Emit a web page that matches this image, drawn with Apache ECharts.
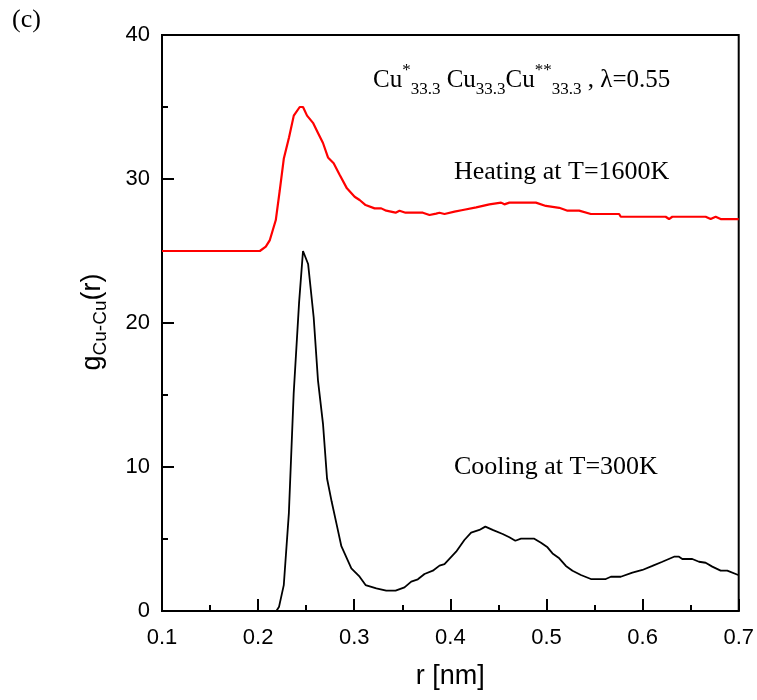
<!DOCTYPE html>
<html>
<head>
<meta charset="utf-8">
<script src="https://cdn.jsdelivr.net/npm/echarts@6/dist/echarts.min.js"></script>
<style>html,body{margin:0;padding:0;background:#fff}#c{width:757px;height:700px}</style>
</head>
<body>
<div id="c"></div>
<script>
// r [nm] values and g(r) values
var coolR = [0.1, 0.15, 0.2, 0.219, 0.2218, 0.2267, 0.232, 0.237, 0.2426, 0.2467, 0.252, 0.2578, 0.2623, 0.2675, 0.2717, 0.2765, 0.2814, 0.2866, 0.297, 0.3056, 0.3118, 0.323, 0.3333, 0.343, 0.3523, 0.3593, 0.3662, 0.3731, 0.3818, 0.3887, 0.3939, 0.406, 0.4146, 0.4216, 0.4302, 0.4364, 0.444, 0.4544, 0.4614, 0.4676, 0.4735, 0.4873, 0.4943, 0.5011, 0.5063, 0.5133, 0.5202, 0.5271, 0.5358, 0.5462, 0.5617, 0.567, 0.5773, 0.5894, 0.5998, 0.6102, 0.6206, 0.6327, 0.6379, 0.6413, 0.6517, 0.6587, 0.6656, 0.6725, 0.6812, 0.6881, 0.6995];
var coolG = [0, 0, 0, 0, 0.3, 1.8, 6.8, 15.1, 21.4, 25.0, 24.1, 20.4, 16.0, 13.0, 9.2, 7.6, 6.1, 4.5, 2.96, 2.38, 1.8, 1.57, 1.41, 1.41, 1.64, 2.04, 2.2, 2.57, 2.8, 3.15, 3.26, 4.12, 4.93, 5.44, 5.63, 5.86, 5.63, 5.35, 5.12, 4.88, 5.02, 5.02, 4.74, 4.42, 4.0, 3.66, 3.13, 2.8, 2.5, 2.22, 2.22, 2.38, 2.38, 2.66, 2.85, 3.13, 3.42, 3.77, 3.77, 3.61, 3.61, 3.42, 3.35, 3.08, 2.8, 2.8, 2.5];
var heatR = [0.1, 0.15, 0.2018, 0.208, 0.2122, 0.2184, 0.2225, 0.2267, 0.2322, 0.2371, 0.2433, 0.2467, 0.2509, 0.2571, 0.2623, 0.2675, 0.2727, 0.2786, 0.2848, 0.2924, 0.3004, 0.3056, 0.3118, 0.3212, 0.3281, 0.3333, 0.343, 0.3471, 0.3534, 0.3714, 0.3783, 0.3852, 0.3887, 0.3939, 0.4043, 0.413, 0.4269, 0.4406, 0.4528, 0.4562, 0.4614, 0.489, 0.4994, 0.5133, 0.5219, 0.534, 0.5462, 0.5756, 0.5773, 0.624, 0.6275, 0.6309, 0.6656, 0.6708, 0.676, 0.6812, 0.7];
var heatG = [25.0, 25.0, 25.0, 25.3, 25.76, 27.15, 29.2, 31.4, 32.9, 34.4, 35.0, 35.0, 34.4, 33.9, 33.2, 32.5, 31.5, 31.1, 30.3, 29.35, 28.77, 28.54, 28.19, 27.96, 27.96, 27.8, 27.66, 27.8, 27.66, 27.66, 27.5, 27.6, 27.66, 27.57, 27.73, 27.85, 28.03, 28.24, 28.36, 28.24, 28.36, 28.36, 28.13, 28.0, 27.8, 27.8, 27.57, 27.57, 27.38, 27.38, 27.22, 27.38, 27.38, 27.22, 27.38, 27.22, 27.22];
var xTicks = [0.1, 0.2, 0.3, 0.4, 0.5, 0.6, 0.7];
var yTicks = [0, 10, 20, 30, 40];

function pairs(xs, ys) { return xs.map(function (x, i) { return [x, ys[i]]; }); }

var chart = echarts.init(document.getElementById('c'), null, { renderer: 'canvas' });
var serif = '"Liberation Serif", "Times New Roman", serif';
var sans = '"Liberation Sans", Arial, sans-serif';
var axisCommon = {
  axisLine: { show: true, onZero: false, lineStyle: { color: '#000', width: 2 } },
  axisTick: { show: true, inside: true, length: 12, lineStyle: { color: '#000', width: 2 } },
  minorTick: { show: true, splitNumber: 2, length: 6, lineStyle: { color: '#000', width: 2 } },
  splitLine: { show: false },
  axisLabel: { color: '#000', fontSize: 22, fontFamily: sans }
};
chart.setOption({
  animation: false,
  backgroundColor: '#fff',
  grid: [{ left: 162, right: 17, top: 35, bottom: 89, show: true, borderColor: '#000', borderWidth: 2, backgroundColor: 'transparent' }],
  xAxis: [Object.assign({}, axisCommon, {
    type: 'value', min: xTicks[0], max: xTicks[xTicks.length - 1], interval: 0.1,
    name: 'r [nm]', nameLocation: 'middle', nameGap: 52,
    nameTextStyle: { color: '#000', fontSize: 27, fontFamily: sans },
    axisLabel: Object.assign({}, axisCommon.axisLabel, { margin: 16, formatter: function (v) { return (+v).toFixed(1); } })
  })],
  yAxis: [Object.assign({}, axisCommon, {
    type: 'value', min: yTicks[0], max: yTicks[yTicks.length - 1], interval: 10,
    axisLabel: Object.assign({}, axisCommon.axisLabel, { margin: 12 })
  })],
  series: [
    { type: 'line', data: pairs(heatR, heatG), showSymbol: false, symbol: 'none', lineStyle: { color: '#ff0000', width: 2.2 }, z: 3 },
    { type: 'line', data: pairs(coolR, coolG), showSymbol: false, symbol: 'none', lineStyle: { color: '#000', width: 1.8 }, z: 3 }
  ],
  graphic: [
    { type: 'text', left: 12, top: 7, style: { text: '(c)', font: '26px ' + serif, fill: '#000' } },
    { type: 'text', x: 454, y: 172, style: { text: 'Heating at T=1600K', font: '26px ' + serif, fill: '#000', verticalAlign: 'middle' } },
    { type: 'text', x: 454, y: 467, style: { text: 'Cooling at T=300K', font: '26px ' + serif, fill: '#000', verticalAlign: 'middle' } },
    { type: 'text', x: 373, y: 80, style: {
      text: '{m|Cu}{p|*}{s|33.3}{m| Cu}{s|33.3}{m|Cu}{p|**}{s|33.3}{m| , λ=0.55}',
      verticalAlign: 'middle', fill: '#000',
      rich: {
        m: { fontFamily: serif, fontSize: 25, lineHeight: 36, verticalAlign: 'middle', fill: '#000' },
        p: { fontFamily: serif, fontSize: 17, lineHeight: 19, verticalAlign: 'top', fill: '#000' },
        s: { fontFamily: serif, fontSize: 17, lineHeight: 19, verticalAlign: 'bottom', fill: '#000' }
      } } },
    { type: 'text', x: 93, y: 322, rotation: Math.PI / 2, style: {
      text: '{a|g}{b|Cu-Cu}{a|(r)}', align: 'center', verticalAlign: 'middle', fill: '#000',
      rich: {
        a: { fontFamily: sans, fontSize: 27, lineHeight: 34, verticalAlign: 'middle', fill: '#000' },
        b: { fontFamily: sans, fontSize: 19, lineHeight: 22, verticalAlign: 'bottom', fill: '#000' }
      } } }
  ]
});
</script>
</body>
</html>
